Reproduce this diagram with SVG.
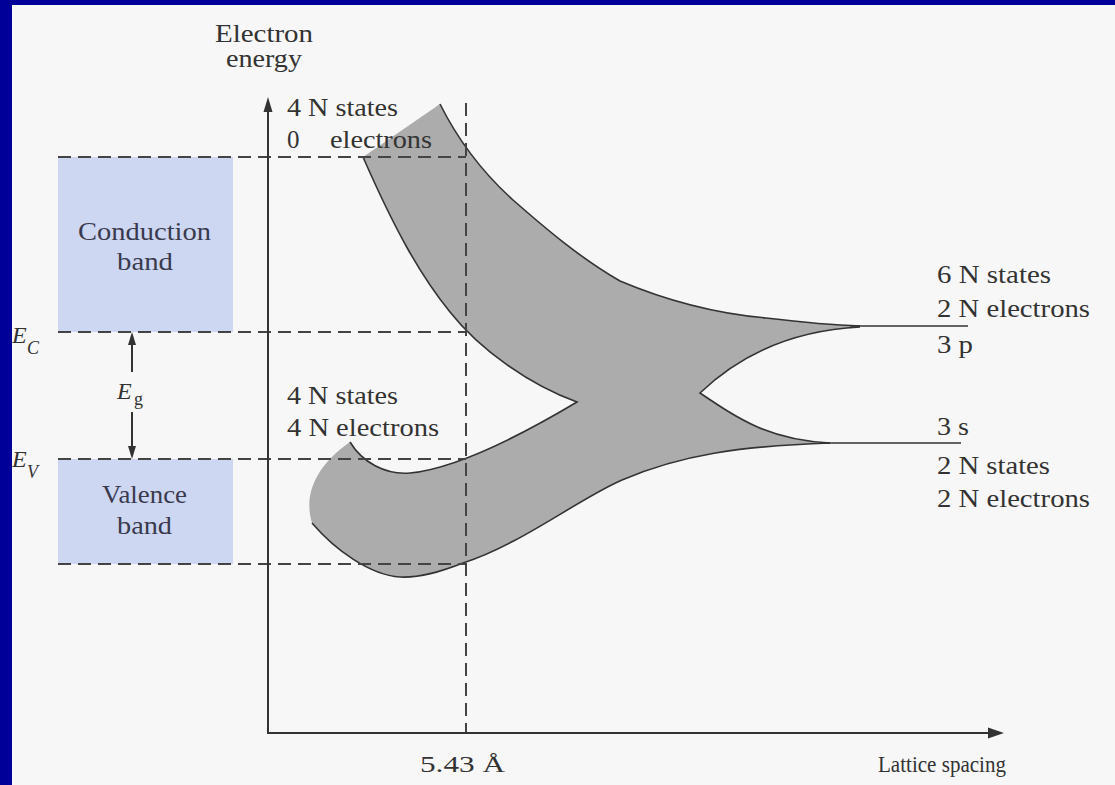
<svg xmlns="http://www.w3.org/2000/svg" width="1115" height="785" viewBox="0 0 1115 785">
<style>
text{font-family:"Liberation Serif","Times New Roman",serif;font-size:25px;fill:#333;}
.it{font-style:italic;font-size:24px;}
.sub{font-size:18px;}
.small{font-size:24px;}
.band{fill:#3a3a4e;}
.dash{stroke:#444;stroke-width:2;stroke-dasharray:13 7;fill:none;}
.ax{stroke:#333;stroke-width:2;fill:none;}
.edge{stroke:#333;stroke-width:1.6;fill:none;}
</style>
<rect x="0" y="0" width="1115" height="785" fill="#000099"/>
<rect x="12" y="5" width="1103" height="780" fill="#f7f7f7"/>

<g id="conduction-band"><rect x="58" y="157" width="175" height="175" fill="#cdd7f2"/>
<text class="band" x="78" y="240" textLength="133" lengthAdjust="spacingAndGlyphs">Conduction</text>
<text class="band" x="117" y="270" textLength="56" lengthAdjust="spacingAndGlyphs">band</text></g>
<g id="valence-band"><rect x="58" y="459" width="175" height="105" fill="#cdd7f2"/>
<text class="band" x="102" y="503" textLength="85" lengthAdjust="spacingAndGlyphs">Valence</text>
<text class="band" x="117" y="534" textLength="55" lengthAdjust="spacingAndGlyphs">band</text></g>

<g id="energy-bands">
<path fill="#acacac" d="M363,157 L440,104 C458,140 482,172 513,200 C545,228 580,258 620,281 C665,300 710,313 766,318 C800,322 830,325 860,326 L860,327 C800,330 745,350 700,393 C740,420 770,440 830,443 C740,446 680,455 622,480 C580,498 520,545 463,563 C440,572 420,578 400,577 C370,575 335,550 312,523 C305,500 310,470 350,442 C362,462 385,475 410,473 C460,468 530,430 577,402 C530,385 480,350 450,312 C420,275 395,230 363,157 Z"/>
<path class="edge" d="M440,104 C458,140 482,172 513,200 C545,228 580,258 620,281 C665,300 710,313 766,318 C800,322 830,325 860,326"/>
<path class="edge" d="M860,327 C800,330 745,350 700,393 C740,420 770,440 830,443"/>
<path class="edge" d="M830,443 C740,446 680,455 622,480 C580,498 520,545 463,563 C440,572 420,578 400,577 C370,575 335,550 312,523"/>
<path class="edge" d="M350,442 C362,462 385,475 410,473 C460,468 530,430 577,402 C530,385 480,350 450,312 C420,275 395,230 363,157"/>
<line class="edge" x1="850" y1="326" x2="968" y2="326"/>
<line class="edge" x1="820" y1="443" x2="961" y2="443"/>
</g>

<g id="connectors">
<line class="dash" x1="58" y1="157" x2="466" y2="157"/>
<line class="dash" x1="58" y1="332" x2="466" y2="332"/>
<line class="dash" x1="58" y1="459" x2="466" y2="459"/>
<line class="dash" x1="58" y1="564" x2="466" y2="564"/>
<line class="dash" x1="466" y1="103" x2="466" y2="733"/>
<line class="ax" x1="268" y1="110" x2="268" y2="734"/>
<polygon points="268,97 263.5,112 272.5,112" fill="#333"/>
<line class="ax" x1="267" y1="733" x2="992" y2="733" stroke-width="2.5"/>
<polygon points="1004,733 988,727.5 988,738.5" fill="#333"/>
<line class="ax" x1="132" y1="340" x2="132" y2="372" stroke-width="1.6"/>
<line class="ax" x1="132" y1="412" x2="132" y2="451" stroke-width="1.6"/>
<polygon points="132,332 128,345 136,345" fill="#333"/>
<polygon points="132,459 128,446 136,446" fill="#333"/>
</g>

<g id="labels">
<text x="215" y="42" textLength="98" lengthAdjust="spacingAndGlyphs">Electron</text>
<text x="226" y="67" textLength="76" lengthAdjust="spacingAndGlyphs">energy</text>
<text x="287" y="116" textLength="111" lengthAdjust="spacingAndGlyphs">4 N states</text>
<text x="287" y="148">0</text>
<text x="330" y="148" textLength="102" lengthAdjust="spacingAndGlyphs">electrons</text>
<text x="287" y="404" textLength="111" lengthAdjust="spacingAndGlyphs">4 N states</text>
<text x="287" y="436" textLength="152" lengthAdjust="spacingAndGlyphs">4 N electrons</text>
<text x="937" y="283" textLength="114" lengthAdjust="spacingAndGlyphs">6 N states</text>
<text x="937" y="317" textLength="153" lengthAdjust="spacingAndGlyphs">2 N electrons</text>
<text x="937" y="353" textLength="36" lengthAdjust="spacingAndGlyphs">3 p</text>
<text x="937" y="435" textLength="32" lengthAdjust="spacingAndGlyphs">3 s</text>
<text x="937" y="474" textLength="113" lengthAdjust="spacingAndGlyphs">2 N states</text>
<text x="937" y="507" textLength="153" lengthAdjust="spacingAndGlyphs">2 N electrons</text>
<text class="small" x="420" y="772" textLength="85" lengthAdjust="spacingAndGlyphs">5.43 Å</text>
<text class="small" x="878" y="772" textLength="128" lengthAdjust="spacingAndGlyphs">Lattice spacing</text>
<text class="it" x="12" y="343">E</text><text class="it sub" x="27" y="354">C</text>
<text class="it" x="12" y="467">E</text><text class="it sub" x="27" y="478">V</text>
<text class="it" x="117" y="399">E</text><text class="sub" x="134" y="405">g</text>
</g>
</svg>
